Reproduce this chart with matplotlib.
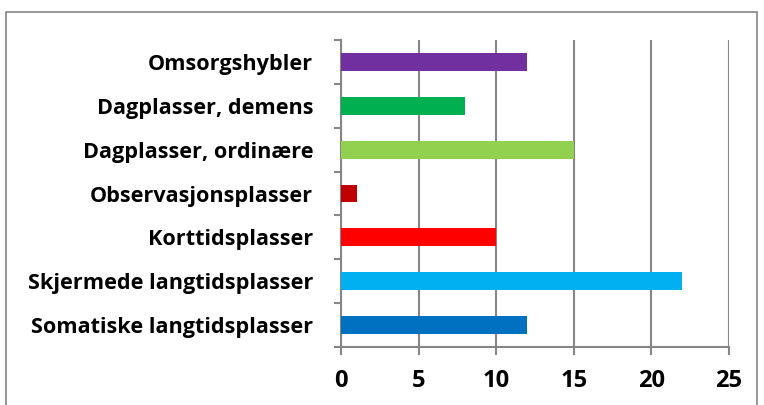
import matplotlib.pyplot as plt
from matplotlib.patches import Rectangle
import numpy as np

categories = [
    "Somatiske langtidsplasser",
    "Skjermede langtidsplasser",
    "Korttidsplasser",
    "Observasjonsplasser",
    "Dagplasser, ordinære",
    "Dagplasser, demens",
    "Omsorgshybler",
]
values = [12, 22, 10, 1, 15, 8, 12]
colors = ["#0070C0", "#00B0F0", "#FF0000", "#C00000", "#92D050", "#00B050", "#7030A0"]
xticks = [0, 5, 10, 15, 20, 25]

plt.rcParams["font.family"] = ["Open Sans", "DejaVu Sans"]
grid_col = "#868686"

fig = plt.figure(figsize=(7.64, 4.05), dpi=100)
ax = fig.add_axes([341 / 764, 1 - 347 / 405, 388 / 764, 307 / 405])

y = np.arange(len(categories))
ax.barh(y, values, height=0.41, color=colors, zorder=3)

ax.set_xlim(0, 25)
ax.set_ylim(-0.5, len(categories) - 0.5)
ax.set_xticks(xticks)
ax.set_xticklabels([str(t) for t in xticks], fontsize=17, fontweight="bold")
ax.set_yticks(y)
ax.set_yticklabels(categories, fontsize=15.6, fontweight="bold")
ax.set_yticks(np.arange(-0.5, len(categories), 1), minor=True)
ax.tick_params(axis="y", which="major", length=0, pad=20)
ax.tick_params(axis="y", which="minor", length=5, width=1.5, color=grid_col)
ax.tick_params(axis="x", length=6, width=1.5, color=grid_col, pad=10)

ax.grid(axis="x", color=grid_col, linewidth=1.5, zorder=0)
for s in ["top", "right"]:
    ax.spines[s].set_visible(False)
for s in ["left", "bottom"]:
    ax.spines[s].set_color(grid_col)
    ax.spines[s].set_linewidth(1.5)

# outer chart border
fig.patches.append(Rectangle((6 / 764, -0.05), 751 / 764, 1.05 - 12 / 405,
                             transform=fig.transFigure, fill=False,
                             edgecolor=grid_col, linewidth=1.2))

fig.savefig("out.png", dpi=100)
